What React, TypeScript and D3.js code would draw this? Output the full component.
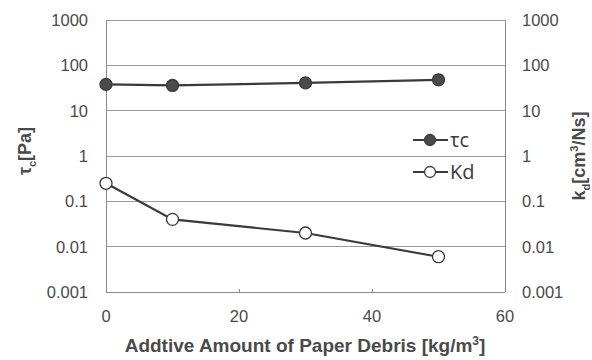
import { useEffect, useRef } from 'react';
import * as d3 from 'd3';

// x: additive amount of paper debris [kg/m3]
const amounts = [0, 10, 30, 50];
const tauC = [38, 36, 41, 48];
const kd = [0.25, 0.04, 0.02, 0.006];
const xTicks = [0, 20, 40, 60];
const yTicks = [0.001, 0.01, 0.1, 1, 10, 100, 1000];
const yTickLabels = ['0.001', '0.01', '0.1', '1', '10', '100', '1000'];

export default function App() {
  const ref = useRef<SVGSVGElement>(null);

  useEffect(() => {
    const width = 592, height = 360;
    const margin = { top: 20, right: 87, bottom: 68, left: 106 };
    const svg = d3.select(ref.current);
    svg.selectAll('*').remove();
    svg.attr('width', width).attr('height', height);

    const x = d3.scaleLinear().domain([0, 60]).range([margin.left, width - margin.right]);
    const y = d3.scaleLog().domain([0.001, 1000]).range([height - margin.bottom, margin.top]);
    const txt = '#4a4a4a';
    const font = 'Arial, "Liberation Sans", sans-serif';

    svg.append('rect').attr('width', width).attr('height', height).attr('fill', '#fff');

    // grid
    svg.append('g')
      .selectAll('line')
      .data(yTicks)
      .join('line')
      .attr('x1', margin.left)
      .attr('x2', width - margin.right)
      .attr('y1', d => y(d))
      .attr('y2', d => y(d))
      .attr('stroke', '#9a9a9a')
      .attr('stroke-width', 1)
      .attr('shape-rendering', 'crispEdges');

    // frame sides
    const frame = svg.append('g').attr('stroke', '#8a8a8a').attr('shape-rendering', 'crispEdges');
    frame.append('line').attr('x1', margin.left).attr('x2', margin.left).attr('y1', y(1000)).attr('y2', y(0.001));
    frame.append('line').attr('x1', width - margin.right).attr('x2', width - margin.right).attr('y1', y(1000)).attr('y2', y(0.001));
    frame.append('line').attr('x1', margin.left).attr('x2', width - margin.right).attr('y1', y(0.001)).attr('y2', y(0.001));
    frame.selectAll('.xt').data(xTicks.slice(1, -1)).join('line')
      .attr('x1', d => x(d)).attr('x2', d => x(d))
      .attr('y1', y(0.001)).attr('y2', y(0.001) - 3);

    // left tick labels
    svg.append('g')
      .selectAll('text')
      .data(yTicks)
      .join('text')
      .attr('x', margin.left - 18)
      .attr('y', d => y(d) + 6)
      .attr('text-anchor', 'end')
      .attr('font-family', font)
      .attr('font-size', 16.5)
      .attr('fill', txt)
      .text((d, i) => yTickLabels[i]);

    // right tick labels
    svg.append('g')
      .selectAll('text')
      .data(yTicks)
      .join('text')
      .attr('x', width - margin.right + 17)
      .attr('y', d => y(d) + 6)
      .attr('text-anchor', 'start')
      .attr('font-family', font)
      .attr('font-size', 16.5)
      .attr('fill', txt)
      .text((d, i) => yTickLabels[i]);

    // x tick labels
    svg.append('g')
      .selectAll('text')
      .data(xTicks)
      .join('text')
      .attr('x', d => x(d))
      .attr('y', 322)
      .attr('text-anchor', 'middle')
      .attr('font-family', font)
      .attr('font-size', 16.5)
      .attr('fill', txt)
      .text(d => d);

    // x title
    const xt = svg.append('text')
      .attr('x', 305)
      .attr('y', 352)
      .attr('text-anchor', 'middle')
      .attr('font-family', font)
      .attr('font-size', 19)
      .attr('font-weight', 'bold')
      .attr('fill', txt);
    xt.append('tspan').text('Addtive Amount of Paper Debris [kg/m');
    xt.append('tspan').attr('font-size', 12).attr('dy', -7).text('3');
    xt.append('tspan').attr('dy', 7).text(']');

    // left y title
    const lt = svg.append('text')
      .attr('transform', `translate(31,151) rotate(-90)`)
      .attr('text-anchor', 'middle')
      .attr('font-family', font)
      .attr('font-size', 18)
      .attr('font-weight', 'bold')
      .attr('fill', txt);
    lt.append('tspan').text('τ');
    lt.append('tspan').attr('font-size', 11).attr('dy', 5).text('c');
    lt.append('tspan').attr('dy', -5).text('[Pa]');

    // right y title
    const rt = svg.append('text')
      .attr('transform', `translate(585,156) rotate(-90)`)
      .attr('text-anchor', 'middle')
      .attr('font-family', font)
      .attr('font-size', 18)
      .attr('font-weight', 'bold')
      .attr('fill', txt);
    rt.append('tspan').text('k');
    rt.append('tspan').attr('font-size', 11).attr('dy', 5).text('d');
    rt.append('tspan').attr('dy', -5).text('[cm');
    rt.append('tspan').attr('font-size', 11).attr('dy', -7).text('3');
    rt.append('tspan').attr('dy', 7).text('/Ns]');

    const line = d3.line<[number, number]>().x(d => x(d[0])).y(d => y(d[1]));
    const series = [
      { name: 'τc', values: tauC, fill: '#4a4a4a' },
      { name: 'Kd', values: kd, fill: '#fff' },
    ];
    series.forEach(s => {
      const pts = amounts.map((a, i) => [a, s.values[i]] as [number, number]);
      svg.append('path')
        .attr('d', line(pts))
        .attr('fill', 'none')
        .attr('stroke', '#3a3a3a')
        .attr('stroke-width', 2.2);
      svg.append('g').selectAll('circle').data(pts).join('circle')
        .attr('cx', d => x(d[0]))
        .attr('cy', d => y(d[1]))
        .attr('r', 6)
        .attr('fill', s.fill)
        .attr('stroke', '#3a3a3a')
        .attr('stroke-width', 1.3);
    });

    // legend
    const legend = svg.append('g').attr('transform', 'translate(413,140)');
    series.forEach((s, i) => {
      const g = legend.append('g').attr('transform', `translate(0,${i * 32})`);
      g.append('line').attr('x1', 0).attr('x2', 35).attr('stroke', '#3a3a3a').attr('stroke-width', 2);
      g.append('circle').attr('cx', 17).attr('r', 5.5).attr('fill', s.fill).attr('stroke', '#3a3a3a').attr('stroke-width', 1.3);
      g.append('text')
        .attr('x', 37)
        .attr('y', 7)
        .attr('font-family', '"Open Sans", "Noto Sans", sans-serif')
        .attr('font-size', 20)
        .attr('fill', '#3a3a3a')
        .text(s.name);
    });
  }, []);

  return <svg ref={ref} style={{ position: 'absolute', left: 0, top: 0 }} />;
}
